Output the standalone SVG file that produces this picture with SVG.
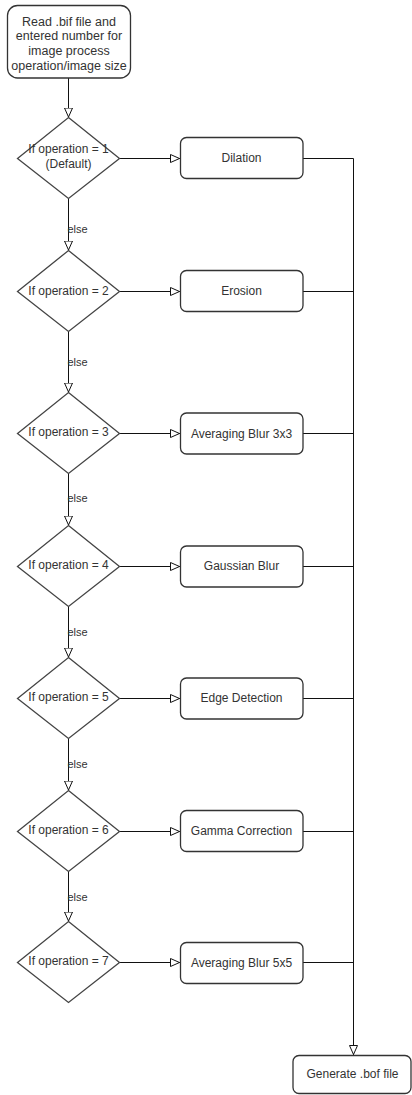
<svg xmlns="http://www.w3.org/2000/svg" width="412" height="1095" viewBox="0 0 412 1095">
<style>
.box{fill:#fff;stroke:#333;stroke-width:1.3}
.dia{fill:#fff;stroke:#444;stroke-width:1.3}
.t{font-family:"Liberation Sans",Arial,sans-serif;font-size:12px;fill:#333;text-anchor:middle}
.tt{font-family:"Liberation Sans",Arial,sans-serif;font-size:12.5px;fill:#333;text-anchor:middle}
.lbl{font-family:"Liberation Sans",Arial,sans-serif;font-size:11px;fill:#333}
.c{fill:none;stroke:#111;stroke-width:1}
</style>
<defs>
<marker id="arr" viewBox="0 0 10 10" refX="10" refY="5" markerWidth="10" markerHeight="10" markerUnits="userSpaceOnUse" orient="auto">
<path d="M0.5,1 L9.5,5 L0.5,9 Z" fill="#fff" stroke="#111" stroke-width="1"/>
</marker>
</defs>
<rect width="412" height="1095" fill="#fff"/>
<g id="connectors">
<path class="c" d="M68.5,78 V117.5" marker-end="url(#arr)"/>
<path class="c" d="M68.5,198.5 V250.5" marker-end="url(#arr)"/>
<path class="c" d="M68.5,331.5 V392.5" marker-end="url(#arr)"/>
<path class="c" d="M68.5,473.5 V525.5" marker-end="url(#arr)"/>
<path class="c" d="M68.5,606.5 V657.5" marker-end="url(#arr)"/>
<path class="c" d="M68.5,738.5 V790.5" marker-end="url(#arr)"/>
<path class="c" d="M68.5,871.5 V921.5" marker-end="url(#arr)"/>
<text class="lbl" x="67.5" y="233">else</text>
<text class="lbl" x="67.5" y="366">else</text>
<text class="lbl" x="67.5" y="502">else</text>
<text class="lbl" x="67.5" y="636">else</text>
<text class="lbl" x="67.5" y="768">else</text>
<text class="lbl" x="67.5" y="901">else</text>
<path class="c" d="M119.5,158.5 H180" marker-end="url(#arr)"/>
<path class="c" d="M119.5,291.5 H180" marker-end="url(#arr)"/>
<path class="c" d="M119.5,433.5 H180" marker-end="url(#arr)"/>
<path class="c" d="M119.5,566.5 H180" marker-end="url(#arr)"/>
<path class="c" d="M119.5,698.5 H180" marker-end="url(#arr)"/>
<path class="c" d="M119.5,831.5 H180" marker-end="url(#arr)"/>
<path class="c" d="M119.5,962.5 H180" marker-end="url(#arr)"/>
<path class="c" d="M303,158.5 H353.5"/>
<path class="c" d="M303,291.5 H353.5"/>
<path class="c" d="M303,433.5 H353.5"/>
<path class="c" d="M303,566.5 H353.5"/>
<path class="c" d="M303,698.5 H353.5"/>
<path class="c" d="M303,831.5 H353.5"/>
<path class="c" d="M303,962.5 H353.5"/>
<path class="c" d="M353.5,158.5 V1055" marker-end="url(#arr)"/>
</g>
<g id="start">
<rect class="box" x="7.5" y="5.5" width="123" height="72.5" rx="10"/>
<text class="tt" x="69" y="25.5">Read .bif file and</text>
<text class="tt" x="69" y="40.3">entered number for</text>
<text class="tt" x="69" y="55.1">image process</text>
<text class="tt" x="69" y="69.9">operation/image size</text>
</g>
<g id="d1">
<path class="dia" d="M68.5,117.5 L119.5,158.5 L68.5,198.5 L17.5,158.5 Z"/>
<text class="t" x="68.5" y="152.5">If operation = 1</text>
<text class="t" x="68.5" y="167.5">(Default)</text>
</g>
<g id="d2">
<path class="dia" d="M68.5,250.5 L119.5,291.5 L68.5,331.5 L17.5,291.5 Z"/>
<text class="t" x="68.5" y="295">If operation = 2</text>
</g>
<g id="d3">
<path class="dia" d="M68.5,392.5 L119.5,433.5 L68.5,473.5 L17.5,433.5 Z"/>
<text class="t" x="68.5" y="435.5">If operation = 3</text>
</g>
<g id="d4">
<path class="dia" d="M68.5,525.5 L119.5,566.5 L68.5,606.5 L17.5,566.5 Z"/>
<text class="t" x="68.5" y="568.5">If operation = 4</text>
</g>
<g id="d5">
<path class="dia" d="M68.5,657.5 L119.5,698.5 L68.5,738.5 L17.5,698.5 Z"/>
<text class="t" x="68.5" y="700.5">If operation = 5</text>
</g>
<g id="d6">
<path class="dia" d="M68.5,790.5 L119.5,831.5 L68.5,871.5 L17.5,831.5 Z"/>
<text class="t" x="68.5" y="833.5">If operation = 6</text>
</g>
<g id="d7">
<path class="dia" d="M68.5,921.5 L119.5,962.5 L68.5,1002.5 L17.5,962.5 Z"/>
<text class="t" x="68.5" y="965">If operation = 7</text>
</g>
<g id="dilation">
<rect class="box" x="180.5" y="137.5" width="122.5" height="41" rx="6"/>
<text class="t" x="241.5" y="161.5">Dilation</text>
</g>
<g id="erosion">
<rect class="box" x="180.5" y="270.5" width="122.5" height="41" rx="6"/>
<text class="t" x="241.5" y="295">Erosion</text>
</g>
<g id="avg3">
<rect class="box" x="180.5" y="413" width="122.5" height="41" rx="6"/>
<text class="t" x="241.5" y="437.5">Averaging Blur 3x3</text>
</g>
<g id="gauss">
<rect class="box" x="180.5" y="546" width="122.5" height="41" rx="6"/>
<text class="t" x="241.5" y="570">Gaussian Blur</text>
</g>
<g id="edge">
<rect class="box" x="180.5" y="678" width="122.5" height="41" rx="6"/>
<text class="t" x="241.5" y="702">Edge Detection</text>
</g>
<g id="gamma">
<rect class="box" x="180.5" y="810.5" width="122.5" height="41" rx="6"/>
<text class="t" x="241.5" y="834.5">Gamma Correction</text>
</g>
<g id="avg5">
<rect class="box" x="180.5" y="942.5" width="122.5" height="41" rx="6"/>
<text class="t" x="241.5" y="966.5">Averaging Blur 5x5</text>
</g>
<g id="generate">
<rect class="box" x="293" y="1055.5" width="118" height="38" rx="6"/>
<text class="t" x="352.5" y="1077.5">Generate .bof file</text>
</g>
</svg>
